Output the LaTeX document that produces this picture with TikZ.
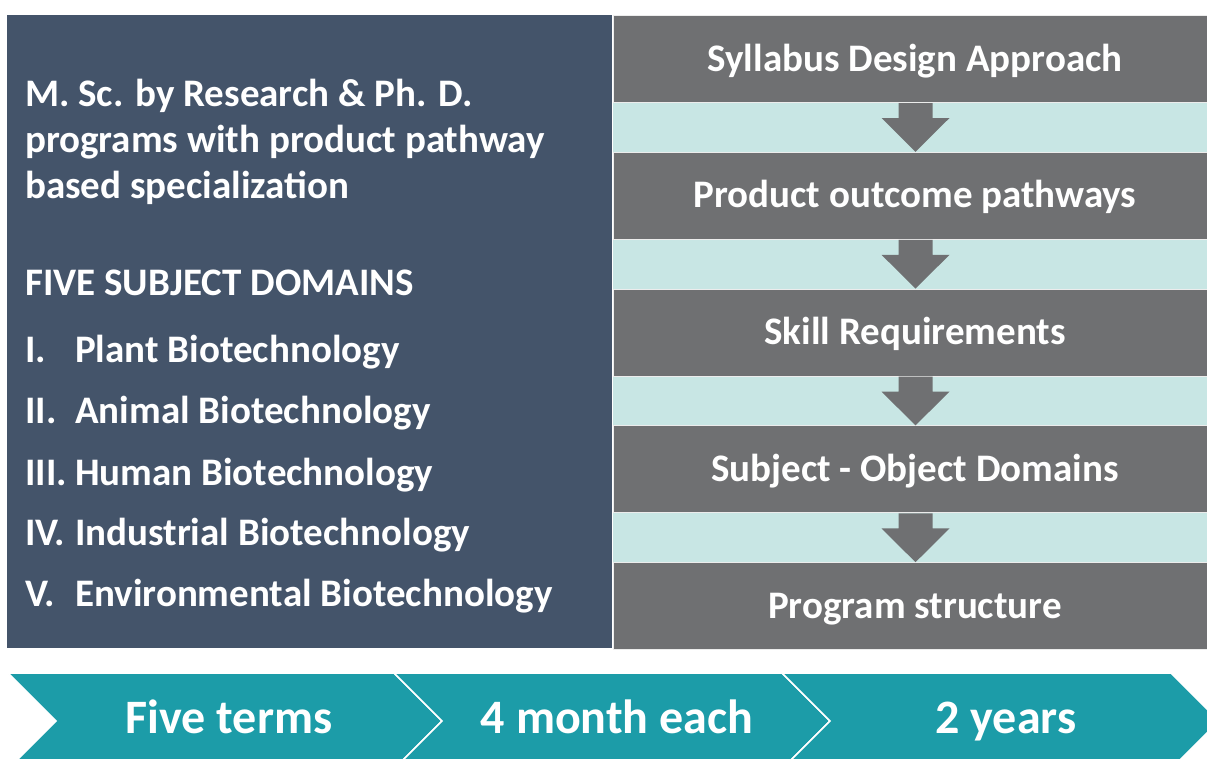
\documentclass[tikz,border=0pt]{standalone}
\usepackage{fontspec}
\setmainfont{Carlito}
\usetikzlibrary{calc}

\definecolor{slate}{HTML}{44546A}
\definecolor{stepgrey}{HTML}{6F7072}
\definecolor{band}{HTML}{C8E6E4}
\definecolor{teal}{HTML}{1C9CA8}

\tikzset{
  lefttxt/.style={anchor=base west,text=white,font=\bfseries\fontsize{39}{46}\selectfont,inner sep=0pt},
  stepbox/.style={fill=stepgrey,draw=white!85!gray,line width=1pt,minimum width=594pt,minimum height=87pt,inner sep=0pt},
  steptxt/.style={text=white,font=\bfseries\fontsize{39}{46}\selectfont,text height=25pt,text depth=0pt,inner sep=0pt},
  fatarrow/.style={fill=stepgrey},
  chevron/.style={fill=teal,draw=white,line width=1.5pt},
  chevtxt/.style={text=white,font=\bfseries\fontsize{48}{54}\selectfont,text height=31pt,text depth=0pt,inner sep=0pt}
}

\begin{document}
\begin{tikzpicture}[x=1pt,y=-1pt]
\useasboundingbox[fill=white](0,0)rectangle(1207,758);
\clip(0,0)rectangle(1207,758);

% left panel with programme text
\fill[slate](7,15)rectangle(612,648);
\node[lefttxt](l1)at(25,106){M. Sc. by Research \& Ph. D.};
\node[lefttxt](l2)at(25,152){programs with product pathway};
\node[lefttxt](l3)at(25,198){based specialization};
\node[lefttxt](dom)at(25,295){FIVE SUBJECT DOMAINS};
\foreach \num/\subj/\y in {I./Plant/362,II./Animal/423,III./Human/485,IV./Industrial/545,V./Environmental/606}{
  \node[lefttxt](n\num)at(25,\y){\num};
  \node[lefttxt](s\num)at(75,\y){\subj\ Biotechnology};
}

% right column: steps on a light band
\fill[band](613,15)rectangle(1207,648);
\foreach \i/\txt in {1/Syllabus Design Approach,2/Product outcome pathways,3/Skill Requirements,4/Subject - Object Domains,5/Program structure}{
  \node[stepbox,anchor=north west](b\i)at(613,{15+136.8*(\i-1)}){};
  \node[steptxt](t\i)at(915,{58.5+136.8*(\i-1)}){\txt};
}
\foreach \a/\b in {1/2,2/3,3/4,4/5}{
  \fill[fatarrow]($(b\a.south)+(-12,0)$)--++(34,0)--++(0,15)--++(17,0)--($(b\b.north)+(5,0)$)--($(b\a.south)+(-29,15)$)--++(17,0)--cycle;
}

% time line at the bottom
\foreach \l/\r in {8/394,394/782,782/1171}{
  \draw[chevron](\l,673)--(\r,673)--(\r+48,721)--(\r,769)--(\l,769)--(\l+48,721)--cycle;
}
\node[chevtxt](c1)at(229,718){Five terms};
\node[chevtxt](c2)at(617,718){4 month each};
\node[chevtxt](c3)at(1006,718){2 years};
\end{tikzpicture}
\end{document}
